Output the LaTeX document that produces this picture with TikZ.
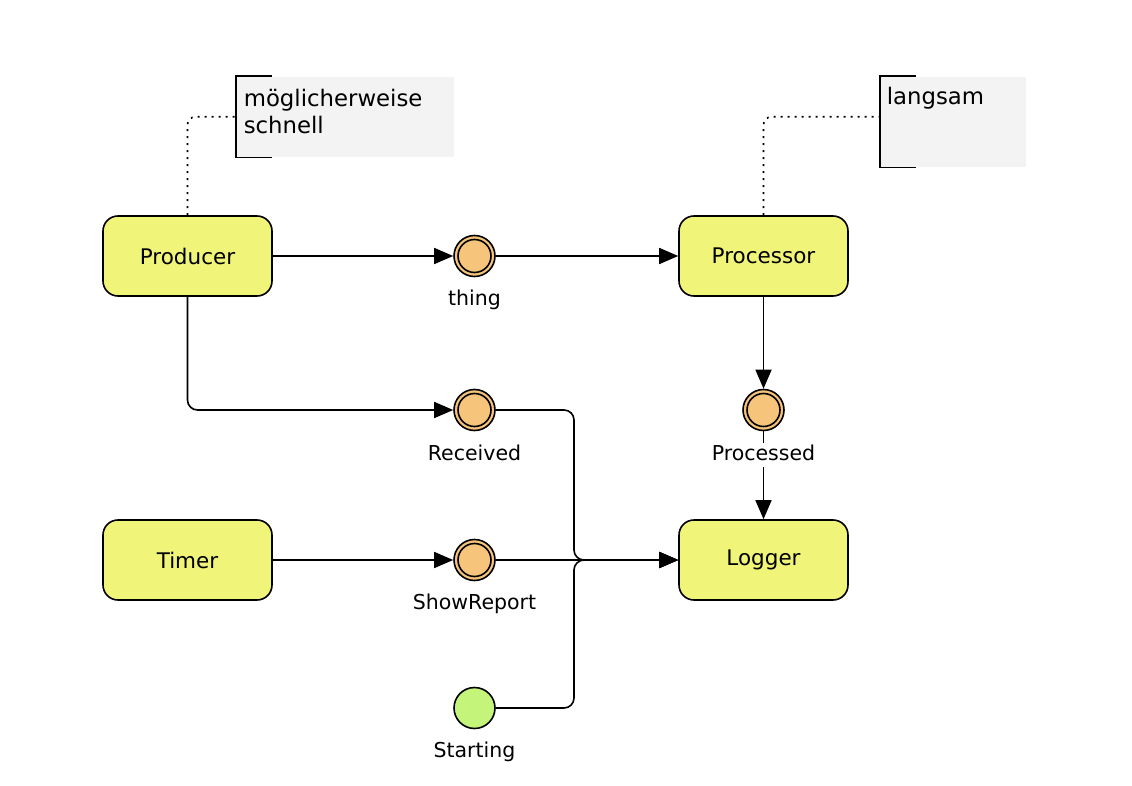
\documentclass[tikz,border=0pt]{standalone}
\usepackage{fontspec}
\setmainfont{DejaVu Sans}
\usetikzlibrary{arrows.meta,positioning}
\definecolor{boxyellow}{RGB}{240,245,122}
\definecolor{evorange}{RGB}{246,196,122}
\definecolor{evgreen}{RGB}{196,245,122}
\definecolor{notegray}{RGB}{243,243,243}
\begin{document}
\begin{tikzpicture}[x=1pt,y=-1pt,line width=1.6pt]
  \tikzset{ actor/.style={draw,rounded corners=15pt,fill=boxyellow,minimum width=169pt,minimum height=80pt,font=\fontsize{21.5}{25}\selectfont},
    ev/.style={circle,draw,fill=evorange,minimum size=41pt,inner sep=0pt,path picture={\draw (path picture bounding box.center) circle (16.5pt);}},
    startev/.style={circle,draw,fill=evgreen,minimum size=41pt,inner sep=0pt},
    lbl/.style={font=\fontsize{20.5}{24}\selectfont,inner sep=2pt,text height=15pt,text depth=5pt},
    note/.style={fill=notegray,anchor=north west,inner sep=0pt},
    notetext/.style={anchor=north west,align=left,font=\fontsize{22.8}{27}\selectfont,inner sep=0pt},
    arr/.style={-{Triangle[length=19pt,width=16pt]}},
    notelink/.style={dash pattern=on 2pt off 5pt,rounded corners=8pt},
  }
  \useasboundingbox (0,0) rectangle (1132,786);

  % notes
  \node[note,minimum width=217pt,minimum height=80pt] (n1) at (236,76) {};
  \node[notetext] at ([xshift=7pt,yshift=-12pt]n1.north west) {möglicherweise\\schnell};
  \draw ([xshift=36pt]n1.north west) -- (n1.north west) -- (n1.south west) -- ([xshift=36pt]n1.south west);
  \node[note,minimum width=145pt,minimum height=90pt] (n2) at (880,76) {};
  \node[notetext] at ([xshift=6pt,yshift=-10pt]n2.north west) {langsam};
  \draw ([xshift=36pt]n2.north west) -- (n2.north west) -- (n2.south west) -- ([xshift=36pt]n2.south west);

  \node[actor] (prod) at (187.5,256) {Producer};
  \node[actor] (proc) at (763.5,256) {Processor};
  \node[actor] (timer) at (187.5,560) {Timer};
  \node[actor] (log) at (763.5,560) {Logger};

  \node[ev] (thing) at (474.5,256) {};
  \node[ev] (recv) at (474.5,410) {};
  \node[ev] (show) at (474.5,560) {};
  \node[ev] (procd) at (763.5,410) {};
  \node[startev] (starting) at (474.5,708) {};
  \coordinate (merge) at (574,560);

  \draw[notelink] (prod) |- (n1.west);
  \draw[notelink] (proc) |- ([yshift=5pt]n2.west);

  \draw[arr] (prod) -- (thing);
  \draw[arr] (thing) -- (proc);
  \draw[arr,rounded corners=10pt] (prod) |- (recv);
  \draw[arr] (proc) -- (procd);
  \draw[arr] (procd) -- (log);
  \draw[arr] (timer) -- (show);
  \draw[arr] (show) -- (log);
  \draw[arr,rounded corners=10pt] (recv) -| (merge) -- (log);
  \draw[arr,rounded corners=10pt] (starting) -| (merge) -- (log);

  \node[lbl,below=10pt of thing] {thing};
  \node[lbl,below=11pt of recv] {Received};
  \node[lbl,below=10pt of show] {ShowReport};
  \node[lbl,fill=white,below=11pt of procd] {Processed};
  \node[lbl,below=10pt of starting] {Starting};
\end{tikzpicture}
\end{document}
